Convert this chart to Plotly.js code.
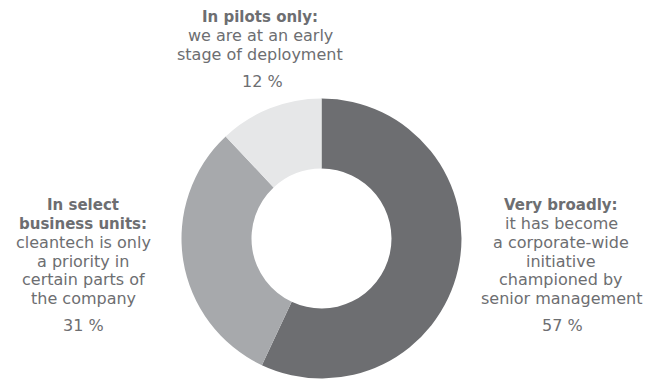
<!DOCTYPE html>
<html>
<head>
<meta charset="utf-8">
<script src="https://cdn.plot.ly/plotly-3.0.1.min.js"></script>
<style>html,body{margin:0;padding:0;background:#fff;}#chart{width:660px;height:379px;}</style>
</head>
<body>
<div id="chart"></div>
<script>
var categories = ["Very broadly", "In select business units", "In pilots only"];
var values = [57, 31, 12];
var headingLines = [["Very broadly:"], ["In select", "business units:"], ["In pilots only:"]];
var descriptionLines = [
  ["it has become", "a corporate-wide", "initiative", "championed by", "senior management"],
  ["cleantech is only", "a priority in", "certain parts of", "the company"],
  ["we are at an early", "stage of deployment"]
];
var colors = ["#6d6e71", "#a7a9ac", "#e6e7e8"];

var W = 660, H = 379;
function px(x){ return x / W; }
function py(y){ return 1 - y / H; }

var textColor = "#6d6e71";
var fontFam = "DejaVu Sans, sans-serif";

// layout: centre x and first line y of each label block, line step, percentage y
var blockX = [561, 83, 260];
var blockTop = [205, 205, 17];
var lineStep = 18.7;
var pctPos = [[562, 325], [84, 325], [262, 82]];

var annotations = [];
for (var i = 0; i < categories.length; i++) {
  var y = blockTop[i];
  headingLines[i].forEach(function (t) {
    annotations.push({
      xref: "paper", yref: "paper", x: px(blockX[i]), y: py(y),
      xanchor: "center", yanchor: "middle", showarrow: false,
      text: "<b>" + t + "</b>",
      font: {family: fontFam, size: 15, color: textColor}
    });
    y += lineStep;
  });
  descriptionLines[i].forEach(function (t) {
    annotations.push({
      xref: "paper", yref: "paper", x: px(blockX[i]), y: py(y),
      xanchor: "center", yanchor: "middle", showarrow: false,
      text: t,
      font: {family: fontFam, size: 16, color: textColor}
    });
    y += lineStep;
  });
  annotations.push({
    xref: "paper", yref: "paper",
    x: px(pctPos[i][0]), y: py(pctPos[i][1]),
    xanchor: "center", yanchor: "middle", showarrow: false,
    text: values[i] + " %",
    font: {family: fontFam, size: 16, color: textColor}
  });
}

var trace = {
  type: "pie",
  labels: categories,
  values: values,
  hole: 0.5,
  sort: false,
  direction: "clockwise",
  rotation: 0,
  marker: {colors: colors, line: {width: 0}},
  textinfo: "none",
  hoverinfo: "label+percent",
  showlegend: false,
  domain: {x: [181.5 / W, 461.5 / W], y: [0.5 / H, 280.5 / H]}
};

var layout = {
  width: W, height: H,
  margin: {l: 0, r: 0, t: 0, b: 0},
  paper_bgcolor: "#ffffff",
  plot_bgcolor: "#ffffff",
  showlegend: false,
  annotations: annotations
};

Plotly.newPlot("chart", [trace], layout, {displayModeBar: false, staticPlot: true});
</script>
</body>
</html>
